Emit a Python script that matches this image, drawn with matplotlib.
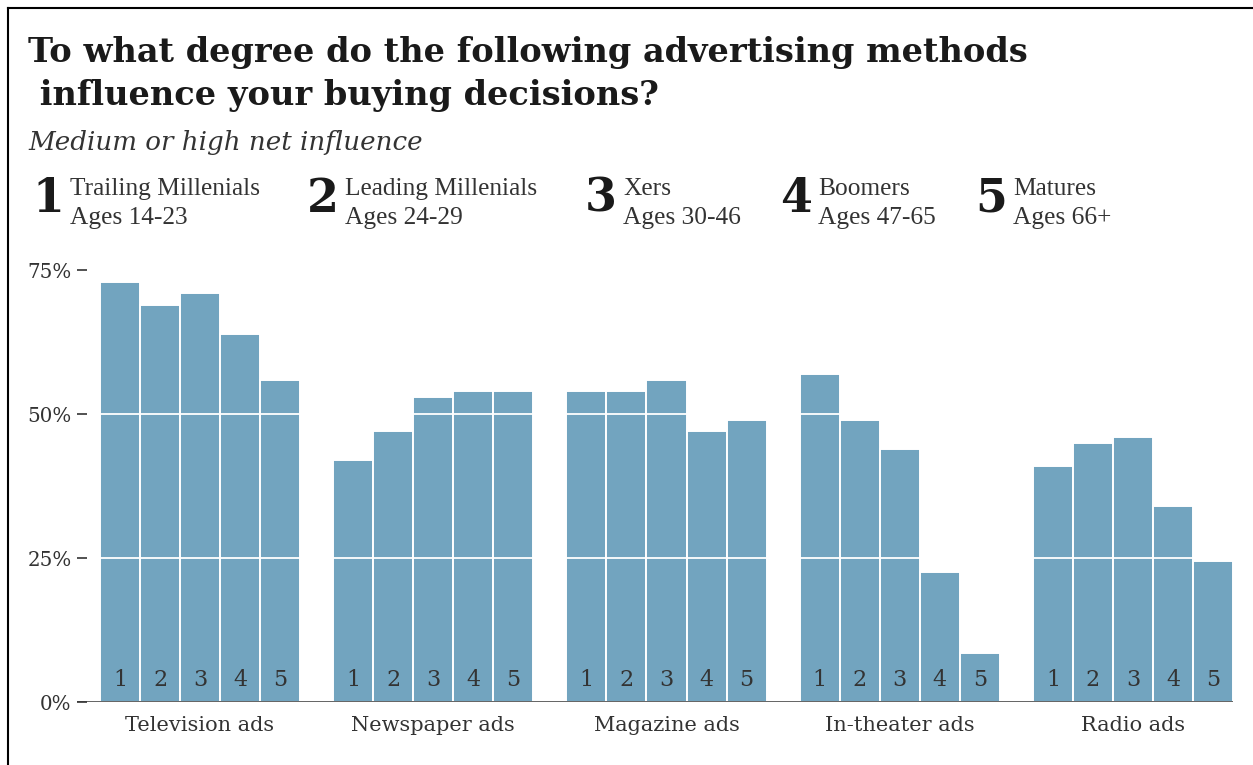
import matplotlib.pyplot as plt
from matplotlib.lines import Line2D
import numpy as np

# survey data: share with medium or high net influence (%)
methods = ["Television ads", "Newspaper ads", "Magazine ads", "In-theater ads", "Radio ads"]
generations = ["Trailing Millenials", "Leading Millenials", "Xers", "Boomers", "Matures"]
age_ranges = ["Ages 14-23", "Ages 24-29", "Ages 30-46", "Ages 47-65", "Ages 66+"]
television = [73, 69, 71, 64, 56]
newspaper = [42, 47, 53, 54, 54]
magazine = [54, 54, 56, 47, 49]
in_theater = [57, 49, 44, 22.5, 8.5]
radio = [41, 45, 46, 34, 24.5]
y_ticks = [0, 25, 50, 75]
title_lines = ["To what degree do the following advertising methods",
               " influence your buying decisions?"]

BAR_COLOR = "#72a4bf"
TEXT = "#333333"
SERIF = "DejaVu Serif"
LEGEND_SERIF = "Liberation Serif"

W, H = 1253, 765
fig = plt.figure(figsize=(W / 100, H / 100), dpi=100)
fig.patch.set_facecolor("white")

# plot area in pixel units, converted to figure fractions
left_px, right_px, base_px, top_px = 77, 1233, 702, 253
ax = fig.add_axes([left_px / W, (H - base_px) / H, (right_px - left_px) / W, (base_px - top_px) / H])

values = [television, newspaper, magazine, in_theater, radio]
n_groups, n_bars = len(values), len(generations)
group_step = 5.83
ax.set_xlim(-1.075, (n_groups - 1) * group_step + n_bars - 0.5)
ax.set_ylim(0, 78)

centers = []
for g, vals in enumerate(values):
    xs = g * group_step + np.arange(n_bars)
    ax.bar(xs, vals, width=1.0, color=BAR_COLOR, edgecolor="white", linewidth=1.4, zorder=2)
    for i, x in enumerate(xs):
        ax.text(x, 1.9, str(i + 1), ha="center", va="bottom", fontsize=16,
                family=SERIF, color=TEXT, zorder=5)
    centers.append(xs.mean())

# white gridlines drawn over the bars
for t in y_ticks[1:]:
    ax.axhline(t, color="white", linewidth=1.3, zorder=3)
ax.axhline(0, color="#555555", linewidth=2, zorder=4)

for s in ax.spines.values():
    s.set_visible(False)
ax.yaxis.set_zorder(6)
ax.set_yticks(y_ticks)
ax.set_yticklabels([f"{t}%" for t in y_ticks], family=SERIF, fontsize=14.3, color=TEXT)
ax.tick_params(axis="y", direction="in", length=7, width=1.2, color=TEXT, pad=4)
ax.set_xticks(centers)
ax.set_xticklabels(methods, family=SERIF, fontsize=15, color=TEXT)
ax.tick_params(axis="x", length=0, pad=10)

# title block
for line, base in zip(title_lines, [62, 105]):
    fig.text(28 / W, 1 - base / H, line, family=SERIF, fontweight="bold", fontsize=24.2,
             color="#1a1a1a", va="baseline")
fig.text(28 / W, 1 - 150 / H, "Medium or high net influence", family=SERIF, style="italic",
         fontsize=18.8, color=TEXT, va="baseline")

# generation key: big number, then name and age range
key_x = [70, 345, 623, 818, 1013]
for k in range(n_bars):
    fig.text((key_x[k] - 6) / W, 1 - 212 / H, str(k + 1), family=SERIF, fontweight="heavy",
             fontsize=33, color="#1a1a1a", ha="right", va="baseline")
    fig.text(key_x[k] / W, 1 - 195 / H, generations[k], family=LEGEND_SERIF,
             fontsize=18.3, color=TEXT, va="baseline")
    fig.text(key_x[k] / W, 1 - 224 / H, age_ranges[k], family=LEGEND_SERIF,
             fontsize=18.3, color=TEXT, va="baseline")

# frame along the left and top edges
fig.add_artist(Line2D([7.5 / W, 7.5 / W], [0, 1 - 7.5 / H], color="black", linewidth=1.5))
fig.add_artist(Line2D([7.5 / W, 1], [1 - 7.5 / H, 1 - 7.5 / H], color="black", linewidth=1.5))

fig.savefig("out.png", dpi=100)
